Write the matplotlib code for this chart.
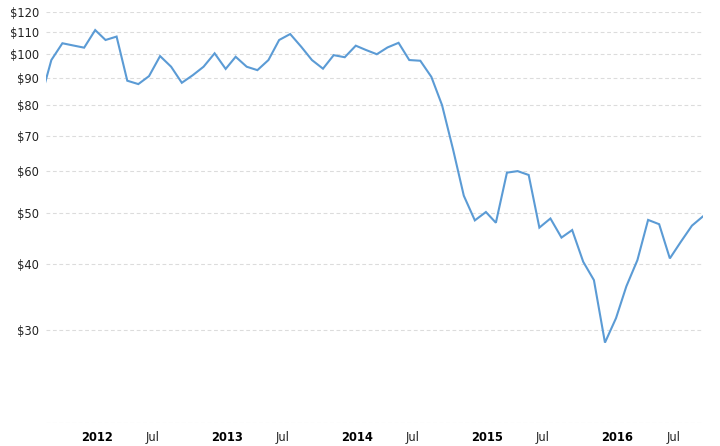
import matplotlib
matplotlib.use('Agg')
import matplotlib.pyplot as plt
import matplotlib.dates as mdates
import matplotlib.ticker as mticker
from matplotlib.transforms import ScaledTranslation
import pandas as pd

# monthly prices, Sep 2011 - Oct 2016 (first point sits just left of the visible range)
months = pd.date_range('2011-09-01', '2016-10-01', freq='MS')
prices = [
    82.2, 97.4, 104.8, 103.8,
    102.8, 111.0, 106.3, 107.9, 89.0, 87.7, 90.8, 99.1, 94.6, 88.2, 91.2, 94.6,
    100.3, 93.7, 98.8, 94.6, 93.2, 97.4, 106.3, 109.1, 103.2, 97.4, 93.8, 99.5,
    98.6, 103.7, 101.8, 99.9, 102.9, 105.0, 97.4, 97.1, 90.5, 80.0, 65.9, 53.9,
    48.4, 50.2, 47.9, 59.6, 60.0, 59.0, 46.9, 48.8, 44.9, 46.4, 40.4, 37.3,
    28.4, 31.6, 36.3, 40.7, 48.5, 47.6, 41.0, 44.1, 47.3, 49.2,
]

y_ticks = [20, 30, 40, 50, 60, 70, 80, 90, 100, 110, 120]
y_labels = ['' if v == 20 else f'${v}' for v in y_ticks]

x_ticks = [pd.Timestamp(f'{y}-{m:02d}-01') for y in range(2012, 2017) for m in (1, 7)]
x_labels = [str(d.year) if d.month == 1 else 'Jul' for d in x_ticks]

plt.rcParams['font.family'] = ['DejaVu Sans']

fig = plt.figure(figsize=(7.2, 4.46), dpi=100)
ax = fig.add_axes([46 / 720, 23 / 446, 657 / 720, 410.8 / 446])

ax.plot(months, prices, color='#5b9bd5', lw=1.5, solid_joinstyle='miter', zorder=3)

ax.set_yscale('log')
ax.set_ylim(20, 120)
ax.yaxis.set_major_locator(mticker.FixedLocator(y_ticks))
ax.yaxis.set_minor_locator(mticker.NullLocator())
ax.set_yticklabels(y_labels)
ax.set_xlim(pd.Timestamp('2011-09-16'), pd.Timestamp('2016-10-02'))
ax.set_xticks(x_ticks)
ax.set_xticklabels(x_labels)

ax.grid(axis='y', color='#dcdcdc', lw=0.8, linestyle=(0, (3.4, 2.4)))
ax.grid(axis='x', visible=False)
for s in ax.spines.values():
    s.set_visible(False)
ax.tick_params(length=0, labelsize=8.3, colors='#222222')
ax.tick_params(axis='y', pad=5)
ax.tick_params(axis='x', pad=6)

shift = ScaledTranslation(-3.5 / 100, 0, fig.dpi_scale_trans)
for lbl, txt in zip(ax.get_xticklabels(), x_labels):
    lbl.set_horizontalalignment('left')
    lbl.set_transform(lbl.get_transform() + shift)
    if txt != 'Jul':
        lbl.set_fontweight('bold')
        lbl.set_color('black')

fig.savefig('out.png', dpi=100)
